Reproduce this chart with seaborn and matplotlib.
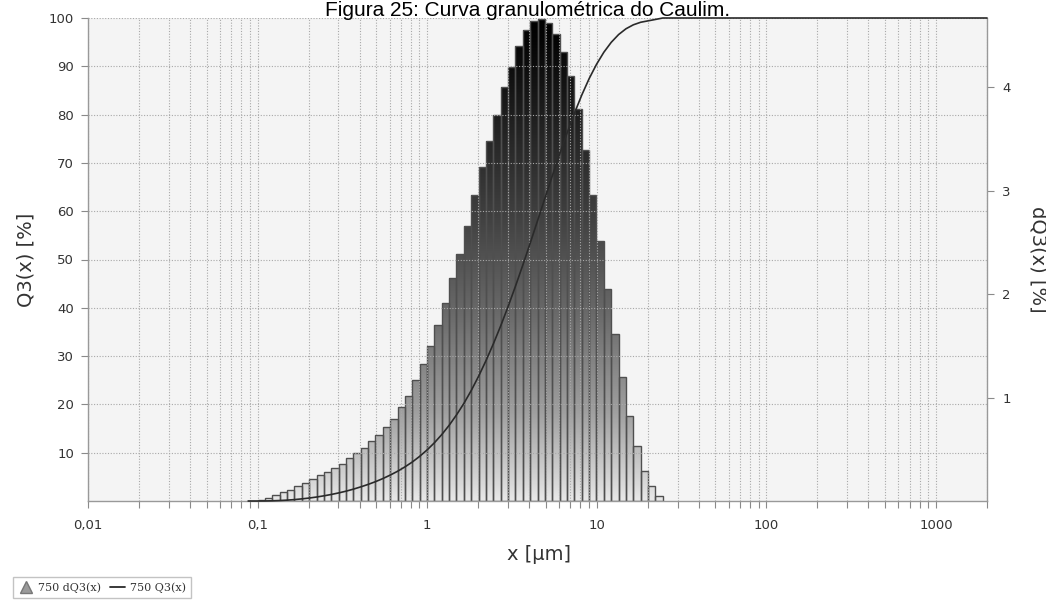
import numpy as np
import pandas as pd
import matplotlib
matplotlib.use("Agg")
import matplotlib.pyplot as plt
from matplotlib.colors import LinearSegmentedColormap
from matplotlib.lines import Line2D
from matplotlib.path import Path
from matplotlib.ticker import FixedLocator, NullFormatter
import seaborn as sns

# particle size classes (bar edges, µm)
bin_edges = [0.1, 0.1105, 0.1221, 0.135, 0.1492, 0.1649, 0.1822, 0.2014, 0.2226, 0.246,
             0.2719, 0.3005, 0.3321, 0.367, 0.4056, 0.4483, 0.4955, 0.5476, 0.6052, 0.6689,
             0.7392, 0.817, 0.903, 0.998, 1.103, 1.219, 1.347, 1.489, 1.646, 1.819,
             2.01, 2.222, 2.456, 2.714, 3.0, 3.315, 3.664, 4.05, 4.476, 4.947,
             5.467, 6.042, 6.678, 7.38, 8.157, 9.015, 9.963, 11.01, 12.17, 13.45,
             14.87, 16.43, 18.16, 20.07, 22.18, 24.51]

# dQ3(x) per class [%]
dq3_percent = [0.01, 0.031, 0.056, 0.085, 0.111, 0.143, 0.176, 0.208, 0.25, 0.282,
               0.32, 0.362, 0.417, 0.465, 0.514, 0.575, 0.633, 0.717, 0.794, 0.91,
               1.01, 1.167, 1.319, 1.496, 1.696, 1.915, 2.153, 2.388, 2.662, 2.955,
               3.229, 3.476, 3.731, 3.998, 4.195, 4.394, 4.549, 4.636, 4.659, 4.614,
               4.517, 4.336, 4.104, 3.783, 3.396, 2.961, 2.51, 2.05, 1.615, 1.196,
               0.82, 0.53, 0.288, 0.143, 0.046]

# cumulative curve Q3(x) [%]
q3_size = [0.088] + bin_edges + [2000]
q3_percent = [0, 0, 0.01, 0.04, 0.10, 0.18, 0.29, 0.44, 0.61, 0.82,
              1.07, 1.35, 1.67, 2.03, 2.45, 2.92, 3.43, 4.0, 4.64, 5.36,
              6.15, 7.06, 8.07, 9.24, 10.56, 12.05, 13.75, 15.66, 17.82, 20.2,
              22.87, 25.82, 29.05, 32.53, 36.26, 40.25, 44.45, 48.84, 53.39, 58.03,
              62.69, 67.3, 71.82, 76.15, 80.26, 84.04, 87.44, 90.4, 92.91, 94.96,
              96.57, 97.77, 98.59, 99.12, 99.41, 99.7, 100, 100]

x_ticks = [0.01, 0.1, 1, 10, 100, 1000]
x_labels = ["0,01", "0,1", "1", "10", "100", "1000"]

sns.set_theme(style="ticks")
plt.rcParams["font.family"] = ["DejaVu Sans"]

grid_kw = dict(color="#a8a8a8", linestyle=(0, (1, 1.5)), linewidth=0.8)
tick_color = "#8a8a8a"
text_color = "#333333"
dq3_top = 4.667

fig = plt.figure(figsize=(10.46, 6.0), dpi=100)
ax = fig.add_axes([0.0841, 0.165, 0.8595, 0.805])
ax2 = ax.twinx()

# histogram of dQ3 on the right axis (bins given in log10 space for a log axis)
hist_df = pd.DataFrame({
    "size": np.sqrt(np.array(bin_edges[:-1]) * np.array(bin_edges[1:])),
    "dq3": dq3_percent,
})
sns.histplot(data=hist_df, x="size", weights="dq3", bins=np.log10(bin_edges).tolist(),
             log_scale=True, stat="count", ax=ax2, edgecolor="#4f4f4f",
             linewidth=1.0, alpha=1)
bars = list(ax2.patches)
for b in bars:
    b.set_facecolor("none")
    b.set_zorder(3)

# vertical grey gradient clipped to the bars
cmap = LinearSegmentedColormap.from_list(
    "bars", [(0, "#e8e8e8"), (0.04, "#d6d6d6"), (0.18, "#a0a0a0"), (0.385, "#6a6a6a"),
             (0.59, "#404040"), (0.8, "#1e1e1e"), (0.95, "#050505"), (1, "#000000")])
grad = np.linspace(0, 1, 256).reshape(-1, 1)
img = ax2.imshow(grad, cmap=cmap, origin="lower", aspect="auto",
                 extent=[0.01, 2000, 0, dq3_top], zorder=2, interpolation="bilinear")
paths = [b.get_path().transformed(b.get_patch_transform()) for b in bars]
img.set_clip_path(Path.make_compound_path(*paths), ax2.transData)

# cumulative curve on the left axis
sns.lineplot(x=q3_size, y=q3_percent, ax=ax, color="#2a2a2a", linewidth=1.2,
             clip_on=False, zorder=5)

ax.set_xscale("log")
ax.set_xlim(0.01, 2000)
ax.set_ylim(0, 100)
ax2.set_ylim(0, dq3_top)

ax.set_zorder(ax2.get_zorder() + 1)
ax.patch.set_visible(False)
ax2.patch.set_visible(True)
ax2.set_facecolor("#f4f4f4")

ax.xaxis.set_major_locator(FixedLocator(x_ticks))
ax.set_xticklabels(x_labels)
minor = [m * d for d in [0.01, 0.1, 1, 10, 100, 1000] for m in range(2, 10) if m * d <= 2000]
ax.xaxis.set_minor_locator(FixedLocator(minor))
ax.xaxis.set_minor_formatter(NullFormatter())
ax.set_yticks(range(10, 101, 10))
ax2.set_yticks([1, 2, 3, 4])

ax.grid(True, which="both", axis="x", **grid_kw)
ax.grid(True, which="major", axis="y", **grid_kw)
ax2.grid(False)

ax.tick_params(axis="x", which="both", length=5, width=0.8, color=tick_color,
               labelsize=9.5, labelcolor=text_color, pad=8)
ax.tick_params(axis="y", length=5, width=0.8, color=tick_color,
               labelsize=9.5, labelcolor=text_color, pad=5)
ax2.tick_params(axis="y", length=5, width=0.8, color=tick_color,
                labelsize=9.5, labelcolor=text_color, pad=6)

for name in ["top", "right"]:
    ax.spines[name].set_visible(False)
for name in ["left", "bottom"]:
    ax.spines[name].set_color("#999999")
    ax.spines[name].set_linewidth(1.0)
for name in ["top", "left", "bottom"]:
    ax2.spines[name].set_visible(False)
ax2.spines["right"].set_color("#999999")
ax2.spines["right"].set_linewidth(1.0)

ax.set_xlabel("x [µm]", fontsize=14, color=text_color)
ax.xaxis.set_label_coords(0.502, -0.091)
ax.set_ylabel("Q3(x) [%]", fontsize=14, color=text_color)
ax.yaxis.set_label_coords(-0.058, 0.5)
ax2.set_ylabel("dQ3(x) [%]", fontsize=14, color=text_color, rotation=270, va="bottom")
ax2.yaxis.set_label_coords(1.0456, 0.5)

fig.text(0.504, 1 - 16 / 600, "Figura 25: Curva granulométrica do Caulim.",
         ha="center", va="baseline", fontsize=15, family="Liberation Sans", color="black")

handles = [
    Line2D([], [], marker="^", linestyle="none", markersize=9,
           markerfacecolor="#9a9a9a", markeredgecolor="#777777"),
    Line2D([], [], color="#2a2a2a", linewidth=1.3),
]
leg = fig.legend(handles, ["750 dQ3(x)", "750 Q3(x)"], loc="upper left",
                 bbox_to_anchor=(13 / 1046, 1 - 577 / 600), ncol=2, frameon=True,
                 fancybox=False, edgecolor="#b5b5b5", borderaxespad=0,
                 prop={"family": "DejaVu Serif", "size": 8}, handlelength=1.4,
                 handletextpad=0.4, columnspacing=0.8, borderpad=0.45)
leg.get_frame().set_linewidth(1.0)
for t in leg.get_texts():
    t.set_color(text_color)

fig.savefig("out.png", dpi=100)
